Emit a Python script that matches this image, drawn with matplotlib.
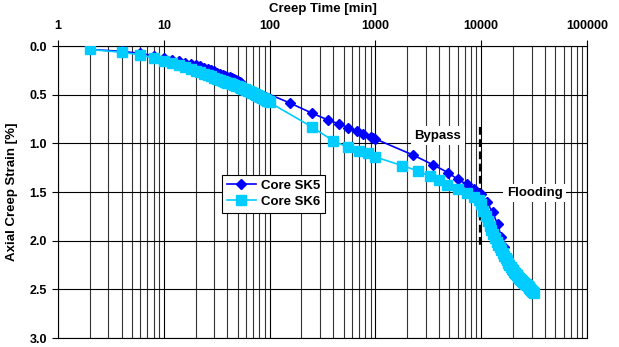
import matplotlib
matplotlib.use("Agg")
import matplotlib.pyplot as plt
from matplotlib.ticker import LogLocator, FixedLocator, NullFormatter, FuncFormatter

plt.rcParams['font.family'] = ['Liberation Sans', 'DejaVu Sans']
plt.rcParams['font.weight'] = 'bold'

# creep time [min] and axial creep strain [%] for both cores
sk5_time = [2, 4, 6, 8, 10, 12, 14, 16, 18, 20, 22, 24, 26, 28, 30, 32, 34, 36, 38,
            40, 42, 44, 46, 48, 50, 52, 54,
            155, 252, 356, 454, 556, 667, 760, 900, 950, 1000,
            2270, 3500, 4850, 6000, 7300, 8500, 9900, 11300, 12800, 14300, 15500,
            16500, 17700, 19500, 21500, 24000, 27000, 30000]
sk5_strain = [0.035, 0.055, 0.075, 0.10, 0.12, 0.14, 0.155, 0.17, 0.185, 0.20, 0.21,
              0.225, 0.235, 0.25, 0.26, 0.275, 0.285, 0.295, 0.305, 0.315, 0.32,
              0.33, 0.34, 0.35, 0.36, 0.365, 0.375,
              0.585, 0.69, 0.76, 0.80, 0.84, 0.87, 0.90, 0.93, 0.94, 0.955,
              1.12, 1.22, 1.30, 1.37, 1.42, 1.47, 1.52, 1.60, 1.71, 1.83, 1.96,
              2.06, 2.18, 2.26, 2.33, 2.39, 2.44, 2.50]

sk6_time = [2, 4, 6, 8, 10, 12, 14, 16, 18, 20, 22, 24, 26, 28, 30, 32, 34, 36, 38,
            40, 42, 44, 46, 48, 50, 52, 54, 56, 58, 60, 62, 64, 66, 68, 70, 72, 74,
            76, 78, 80, 82, 84, 86, 88, 90, 92, 94, 96, 98, 100,
            250, 400, 550, 700, 850, 1000, 1800, 2500, 3300, 4000, 4700, 6000,
            7300, 8500, 9500, 10000,
            10500, 11000, 11500, 12000, 12500, 13000, 13500, 14000, 14500, 15000,
            15500, 16000, 16500, 17000, 17500, 18000, 18500, 19000, 19500, 20000,
            20500, 21000, 21500, 22000, 22500, 23000, 23500, 24000, 24500, 25000,
            25500, 26000, 26500, 27000, 27500, 28000, 28500, 29000, 29500, 30000,
            30500, 31000, 31500]
sk6_strain = [0.035, 0.065, 0.09, 0.125, 0.15, 0.175, 0.195, 0.215, 0.235, 0.255,
              0.27, 0.285, 0.30, 0.31, 0.325, 0.335, 0.345, 0.355, 0.365, 0.375,
              0.385, 0.39, 0.40, 0.41, 0.415, 0.425, 0.43, 0.44, 0.445, 0.45, 0.46,
              0.465, 0.47, 0.48, 0.485, 0.49, 0.50, 0.505, 0.51, 0.515, 0.52, 0.53,
              0.535, 0.54, 0.545, 0.55, 0.56, 0.565, 0.57, 0.58,
              0.83, 0.975, 1.04, 1.08, 1.10, 1.14, 1.23, 1.28, 1.34, 1.38, 1.43,
              1.47, 1.51, 1.55, 1.58, 1.62,
              1.69, 1.75, 1.80, 1.85, 1.89, 1.93, 1.97, 2.01, 2.04, 2.07,
              2.10, 2.13, 2.16, 2.18, 2.20, 2.23, 2.25, 2.27, 2.29, 2.30,
              2.32, 2.33, 2.34, 2.35, 2.37, 2.38, 2.39, 2.40, 2.41, 2.42,
              2.43, 2.44, 2.45, 2.46, 2.47, 2.48, 2.49, 2.50, 2.51, 2.52,
              2.52, 2.53, 2.54]

x_ticks = [1, 10, 100, 1000, 10000, 100000]
y_ticks = [0.0, 0.5, 1.0, 1.5, 2.0, 2.5, 3.0]
flood_time = 9800

fig = plt.figure(figsize=(6.19, 3.47), dpi=100)
ax = fig.add_axes([0.0937, 0.0259, 0.8546, 0.8415])

ax.plot(sk5_time, sk5_strain, color='#0000FF', lw=1.2, marker='D', ms=4.8,
        label='Core SK5', zorder=3)
ax.plot(sk6_time, sk6_strain, color='#00CCFF', lw=1.2, marker='s', ms=6.5,
        label='Core SK6', zorder=4)

# flooding marker line
ax.plot([flood_time, flood_time], [0.83, 2.08], color='black', lw=1.6,
        dashes=(3.5, 2), zorder=2)

ax.set_xscale('log')
ax.set_xlim(1, 100000)
ax.set_ylim(3.0, 0.0)

ax.xaxis.tick_top()
ax.xaxis.set_label_position('top')
ax.xaxis.set_major_locator(FixedLocator(x_ticks))
ax.xaxis.set_major_formatter(FuncFormatter(lambda v, p: f'{int(round(v))}'))
ax.xaxis.set_minor_locator(LogLocator(base=10, subs=range(2, 10), numticks=20))
ax.xaxis.set_minor_formatter(NullFormatter())
ax.set_yticks(y_ticks)
ax.yaxis.set_major_formatter(FuncFormatter(lambda v, p: f'{v:.1f}'))

ax.grid(which='major', axis='both', color='black', lw=0.8)
ax.grid(which='minor', axis='x', color='#333333', lw=0.8)
ax.set_axisbelow(True)

ax.tick_params(axis='x', which='major', length=4, width=0.8, pad=6, labelsize=9)
ax.tick_params(axis='x', which='minor', length=0)
ax.tick_params(axis='y', which='major', length=4, width=0.8, pad=4, labelsize=9)
for lab in ax.get_xticklabels() + ax.get_yticklabels():
    lab.set_fontweight('bold')

for s in ax.spines.values():
    s.set_color('black')
    s.set_linewidth(0.8)

ax.set_xlabel('Creep Time [min]', fontsize=9.5, fontweight='bold', labelpad=6)
ax.set_ylabel('Axial Creep Strain [%]', fontsize=9.5, fontweight='bold', labelpad=8)

ax.text(3900, 0.92, 'Bypass', fontsize=9.5, fontweight='bold', ha='center',
        va='center', bbox=dict(facecolor='white', edgecolor='none', pad=2.5), zorder=5)
ax.text(32000, 1.51, 'Flooding', fontsize=9.5, fontweight='bold', ha='center',
        va='center', bbox=dict(facecolor='white', edgecolor='none', pad=2.5), zorder=5)

leg = ax.legend(loc='upper left', bbox_to_anchor=(222 / 619, 1 - 175 / 347),
                bbox_transform=fig.transFigure, fontsize=9.5, frameon=True,
                fancybox=False, edgecolor='black', framealpha=1,
                handlelength=2.2, handletextpad=0.4, borderpad=0.35,
                labelspacing=0.3, borderaxespad=0)
leg.get_frame().set_linewidth(0.8)
for t in leg.get_texts():
    t.set_fontweight('bold')

fig.savefig('out.png', dpi=100)
